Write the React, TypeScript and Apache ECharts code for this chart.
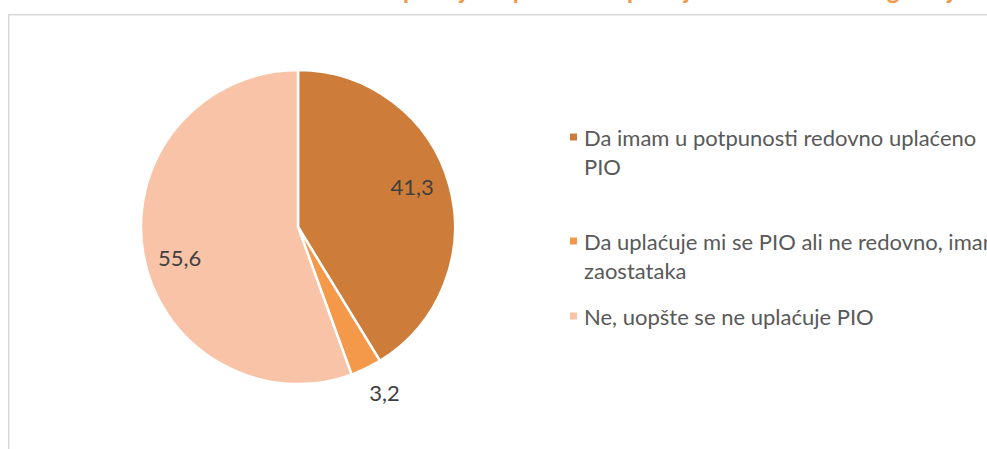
import React, { useEffect, useRef } from "react";
import * as echarts from "echarts";

const titleText =
  "Da li Vam se redovno uplaćuju doprinose za penzijsko i invalidsko osiguranje";
const categories = [
  "Da imam u potpunosti redovno uplaćeno PIO",
  "Da uplaćuje mi se PIO ali ne redovno, imam zaostataka",
  "Ne, uopšte se ne uplaćuje PIO",
];
const values = [41.3, 3.2, 55.6];
const legendLabels = [
  "Da imam u potpunosti redovno uplaćeno\nPIO",
  "Da uplaćuje mi se PIO ali ne redovno, imam\nzaostataka",
  "Ne, uopšte se ne uplaćuje PIO",
];

const colors = ["#CD7C39", "#F4984A", "#F9C3A8"];
const labelRadiusFactor = [1.53, 2.42, 1.55];
const labelNudge = [
  [-6, -7],
  [1, -12],
  [6, 9],
];
const CENTER = [298, 227];
const RADIUS = 157;
const LINE_H = 29;
const FONT = "Lato, 'Open Sans', sans-serif";

export default function App() {
  const ref = useRef<HTMLDivElement>(null);
  useEffect(() => {
    if (!ref.current) return;
    const chart = echarts.init(ref.current, undefined, { renderer: "svg" });
    chart.setOption({
      animation: false,
      backgroundColor: "#ffffff",
      color: colors,
      title: {
        text: titleText,
        left: 160,
        top: -23,
        padding: 0,
        textStyle: {
          fontFamily: FONT,
          fontWeight: "bold",
          fontSize: 24,
          color: "#F79646",
        },
      },
      graphic: [
        {
          type: "rect",
          shape: { x: 8.75, y: 14.75, width: 2000, height: 1000 },
          style: { fill: "none", stroke: "#d9d9d9", lineWidth: 1.5 },
          silent: true,
        },
      ],
      legend: {
        orient: "vertical",
        left: 570,
        top: 137 - 1.5 * LINE_H,
        padding: 0,
        itemWidth: 7,
        itemHeight: 7,
        itemGap: 17,
        icon: "rect",
        itemStyle: { borderWidth: 0 },
        formatter: (name: string) => {
          const t = legendLabels[categories.indexOf(name)];
          return t.includes("\n") ? "\n" + t : t;
        },
        textStyle: {
          fontFamily: FONT,
          fontSize: 22,
          color: "#595959",
          lineHeight: LINE_H,
          padding: [0, 0, 0, 2],
        },
        data: categories,
      },
      series: [
        {
          type: "pie",
          center: CENTER,
          radius: RADIUS,
          startAngle: 90,
          clockwise: true,
          avoidLabelOverlap: false,
          itemStyle: { borderColor: "#ffffff", borderWidth: 2.5 },
          label: {
            show: true,
            position: "inside",
            fontFamily: FONT,
            fontSize: 22,
            color: "#404040",
            formatter: (p: any) => String(p.value).replace(".", ","),
          },
          labelLine: { show: false },
          labelLayout: (params: any) => {
            const r = params.labelRect;
            const lx = r.x + r.width / 2;
            const ly = r.y + r.height / 2;
            const k = labelRadiusFactor[params.dataIndex];
            const n = labelNudge[params.dataIndex];
            return {
              dx: (lx - CENTER[0]) * (k - 1) + n[0],
              dy: (ly - CENTER[1]) * (k - 1) + n[1],
            };
          },
          emphasis: { disabled: true },
          data: categories.map((n, i) => ({ name: n, value: values[i] })),
        },
      ],
    });
    return () => chart.dispose();
  }, []);
  return (
    <div
      ref={ref}
      style={{ position: "absolute", left: 0, top: 0, width: 987, height: 449 }}
    />
  );
}
